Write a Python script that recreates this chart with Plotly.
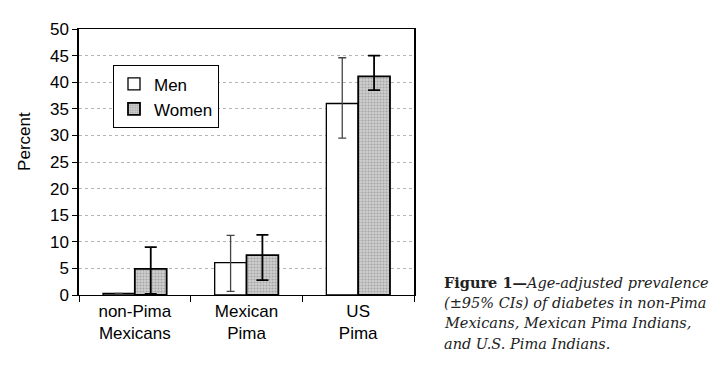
import plotly.graph_objects as go

categories = ["non-Pima<br>Mexicans", "Mexican<br>Pima", "US<br>Pima"]
men = [0.3, 6.1, 36.0]
men_lo = [None, 0.7, 29.5]
men_hi = [None, 11.2, 44.6]
women = [4.9, 7.5, 41.1]
women_lo = [0.2, 2.8, 38.5]
women_hi = [9.0, 11.3, 45.0]
y_ticks = list(range(0, 51, 5))

def plus(v, hi):
    return [None if h is None else h - x for x, h in zip(v, hi)]

def minus(v, lo):
    return [None if l is None else x - l for x, l in zip(v, lo)]

fig = go.Figure()
fig.add_bar(
    x=categories, y=men, name="Men",
    marker=dict(color="white", line=dict(color="black", width=1.3)),
    error_y=dict(type="data", array=plus(men, men_hi), arrayminus=minus(men, men_lo),
                 color="#444", thickness=1.3, width=4),
)
fig.add_bar(
    x=categories, y=women, name="Women",
    marker=dict(color="#c8c8c8", line=dict(color="black", width=1.8),
                pattern=dict(shape=".", fgcolor="#7a7a7a", bgcolor="#d0d0d0", size=3, solidity=0.4)),
    error_y=dict(type="data", array=plus(women, women_hi), arrayminus=minus(women, women_lo),
                 color="black", thickness=1.8, width=6),
)

# page body has an 8px default margin; compensate
OFF = 8
L, R, T, B = 79 - OFF, 414 - OFF, 24 - OFF, 295 - OFF
W, H = 726 - OFF, 381 - OFF

def px_x(px):
    return (px - OFF - L) / (R - L)

def px_y(py):
    return (B - (py - OFF)) / (B - T)

fig.update_layout(
    width=W, height=H,
    margin=dict(l=L, r=W - R, t=T, b=H - B),
    paper_bgcolor="white", plot_bgcolor="white",
    barmode="group", bargap=0.43, bargroupgap=0,
    font=dict(family="Liberation Sans, Arial, sans-serif", size=16, color="black"),
    showlegend=True,
    legend=dict(x=px_x(113), y=px_y(61), xanchor="left", yanchor="top",
                bordercolor="black", borderwidth=1, bgcolor="white",
                font=dict(size=17), itemwidth=30, tracegroupgap=0),
)
fig.update_xaxes(
    showline=True, linecolor="black", linewidth=1.3, mirror=True,
    ticks="outside", tickson="boundaries", ticklen=6, tickcolor="black",
    tickfont=dict(size=17),
)
fig.update_yaxes(
    range=[0, 50], tickvals=y_ticks,
    showline=True, linecolor="black", linewidth=1.5, mirror=True,
    ticks="outside", ticklen=5, tickcolor="black",
    showgrid=True, gridcolor="#b4b4b4", griddash="dot", gridwidth=1,
    zeroline=False,
    tickfont=dict(size=17),
)

fig.add_annotation(
    xref="paper", yref="paper", x=px_x(25), y=px_y(139),
    xanchor="center", yanchor="middle", showarrow=False, textangle=-90,
    text="Percent", font=dict(size=17),
)

caption_lines = [
    "<b>Figure 1—</b><i>Age-adjusted prevalence</i>",
    "<i>(±95% CIs) of diabetes in non-Pima</i>",
    "<i>Mexicans, Mexican Pima Indians,</i>",
    "<i>and U.S. Pima Indians.</i>",
]
for i, line in enumerate(caption_lines):
    fig.add_annotation(
        xref="paper", yref="paper", x=px_x(442), y=px_y(282 + 21 * i),
        xanchor="left", yanchor="middle", showarrow=False, align="left",
        text=line, font=dict(family="DejaVu Serif, serif", size=14.5, color="#222"),
    )

fig.write_html("out.html")
